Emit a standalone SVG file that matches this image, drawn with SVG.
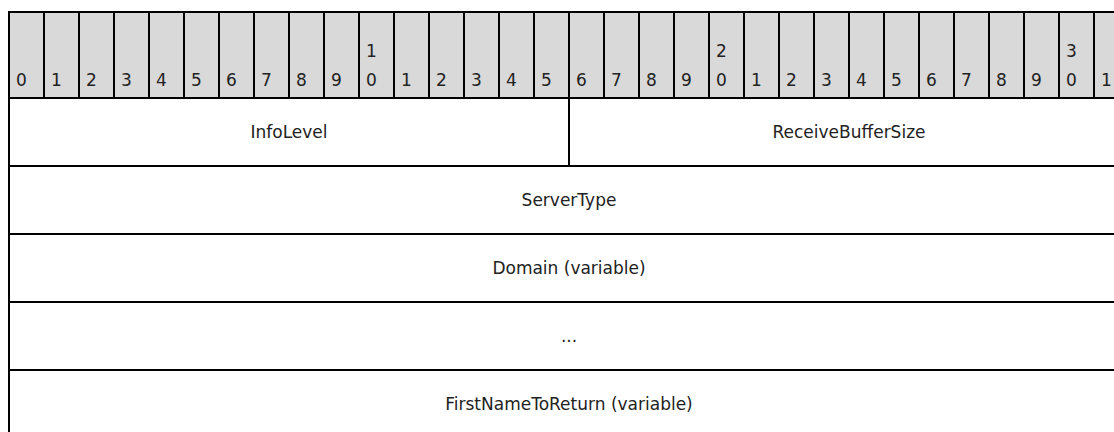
<svg xmlns="http://www.w3.org/2000/svg" width="1114" height="432" viewBox="0 0 1114 432">
<style>
.hdr{fill:#d9d9d9;stroke:#000;stroke-width:2}
.fld{fill:#fff;stroke:#000;stroke-width:2}
.d{font-family:"DejaVu Sans",Verdana,sans-serif;font-size:17px;fill:#222}
.t{font-family:"DejaVu Sans",Verdana,sans-serif;font-size:17px;fill:#222;text-anchor:middle}
</style>
<rect width="1114" height="432" fill="#fff"/>
<g id="header">
<rect class="hdr" x="9" y="12" width="35" height="86"/><text class="d" x="16" y="86">0</text>
<rect class="hdr" x="44" y="12" width="35" height="86"/><text class="d" x="51" y="86">1</text>
<rect class="hdr" x="79" y="12" width="35" height="86"/><text class="d" x="86" y="86">2</text>
<rect class="hdr" x="114" y="12" width="35" height="86"/><text class="d" x="121" y="86">3</text>
<rect class="hdr" x="149" y="12" width="35" height="86"/><text class="d" x="156" y="86">4</text>
<rect class="hdr" x="184" y="12" width="35" height="86"/><text class="d" x="191" y="86">5</text>
<rect class="hdr" x="219" y="12" width="35" height="86"/><text class="d" x="226" y="86">6</text>
<rect class="hdr" x="254" y="12" width="35" height="86"/><text class="d" x="261" y="86">7</text>
<rect class="hdr" x="289" y="12" width="35" height="86"/><text class="d" x="296" y="86">8</text>
<rect class="hdr" x="324" y="12" width="35" height="86"/><text class="d" x="331" y="86">9</text>
<rect class="hdr" x="359" y="12" width="35" height="86"/><text class="d" x="366" y="57">1</text><text class="d" x="366" y="86">0</text>
<rect class="hdr" x="394" y="12" width="35" height="86"/><text class="d" x="401" y="86">1</text>
<rect class="hdr" x="429" y="12" width="35" height="86"/><text class="d" x="436" y="86">2</text>
<rect class="hdr" x="464" y="12" width="35" height="86"/><text class="d" x="471" y="86">3</text>
<rect class="hdr" x="499" y="12" width="35" height="86"/><text class="d" x="506" y="86">4</text>
<rect class="hdr" x="534" y="12" width="35" height="86"/><text class="d" x="541" y="86">5</text>
<rect class="hdr" x="569" y="12" width="35" height="86"/><text class="d" x="576" y="86">6</text>
<rect class="hdr" x="604" y="12" width="35" height="86"/><text class="d" x="611" y="86">7</text>
<rect class="hdr" x="639" y="12" width="35" height="86"/><text class="d" x="646" y="86">8</text>
<rect class="hdr" x="674" y="12" width="35" height="86"/><text class="d" x="681" y="86">9</text>
<rect class="hdr" x="709" y="12" width="35" height="86"/><text class="d" x="716" y="57">2</text><text class="d" x="716" y="86">0</text>
<rect class="hdr" x="744" y="12" width="35" height="86"/><text class="d" x="751" y="86">1</text>
<rect class="hdr" x="779" y="12" width="35" height="86"/><text class="d" x="786" y="86">2</text>
<rect class="hdr" x="814" y="12" width="35" height="86"/><text class="d" x="821" y="86">3</text>
<rect class="hdr" x="849" y="12" width="35" height="86"/><text class="d" x="856" y="86">4</text>
<rect class="hdr" x="884" y="12" width="35" height="86"/><text class="d" x="891" y="86">5</text>
<rect class="hdr" x="919" y="12" width="35" height="86"/><text class="d" x="926" y="86">6</text>
<rect class="hdr" x="954" y="12" width="35" height="86"/><text class="d" x="961" y="86">7</text>
<rect class="hdr" x="989" y="12" width="35" height="86"/><text class="d" x="996" y="86">8</text>
<rect class="hdr" x="1024" y="12" width="35" height="86"/><text class="d" x="1031" y="86">9</text>
<rect class="hdr" x="1059" y="12" width="35" height="86"/><text class="d" x="1066" y="57">3</text><text class="d" x="1066" y="86">0</text>
<rect class="hdr" x="1094" y="12" width="35" height="86"/><text class="d" x="1101" y="86">1</text>
</g>
<g id="InfoLevel"><rect class="fld" x="9" y="98" width="560" height="68"/><text class="t" x="289" y="138">InfoLevel</text></g>
<g id="ReceiveBufferSize"><rect class="fld" x="569" y="98" width="560" height="68"/><text class="t" x="849" y="138">ReceiveBufferSize</text></g>
<g id="ServerType"><rect class="fld" x="9" y="166" width="1120" height="68"/><text class="t" x="569" y="206">ServerType</text></g>
<g id="Domain"><rect class="fld" x="9" y="234" width="1120" height="68"/><text class="t" x="569" y="274">Domain (variable)</text></g>
<g id="Ellipsis"><rect class="fld" x="9" y="302" width="1120" height="68"/><text class="t" x="569" y="342">...</text></g>
<g id="FirstNameToReturn"><rect class="fld" x="9" y="370" width="1120" height="80"/><text class="t" x="569" y="410">FirstNameToReturn (variable)</text></g>
<g id="connectors"></g>
</svg>
